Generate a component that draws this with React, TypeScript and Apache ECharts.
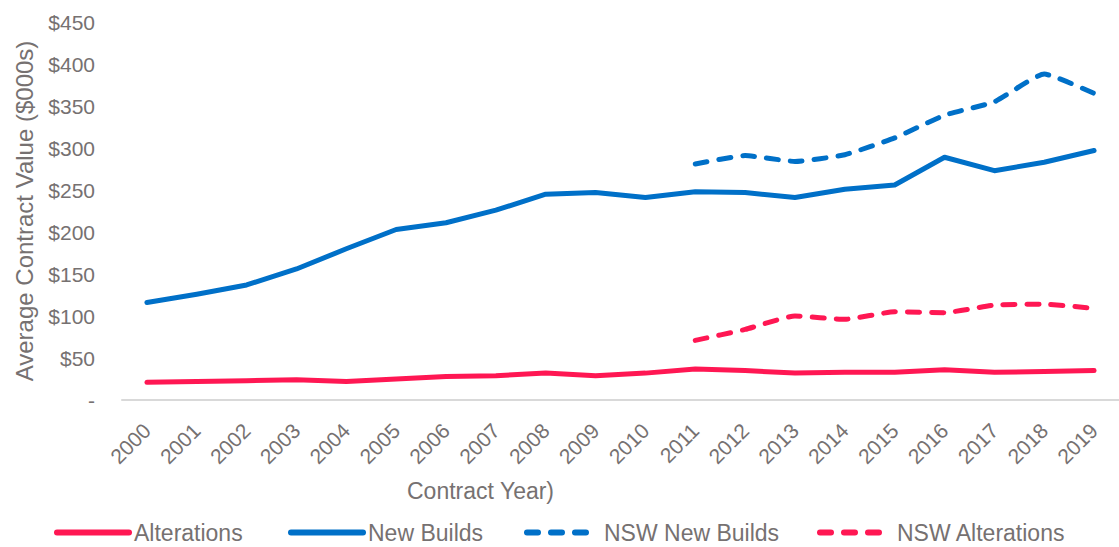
import React, { useEffect, useRef } from "react";
import * as echarts from "echarts";

const years = ["2000","2001","2002","2003","2004","2005","2006","2007","2008","2009","2010","2011","2012","2013","2014","2015","2016","2017","2018","2019"];
const alterations = [21, 22, 23, 24, 22, 25, 28, 29, 32, 29, 32, 37, 35, 32, 33, 33, 36, 33, 34, 35];
const newBuilds = [116, 126, 137, 156, 180, 203, 211, 226, 245, 247, 241, 248, 247, 241, 251, 256, 289, 273, 283, 297];
const nswNewBuilds = [null, null, null, null, null, null, null, null, null, null, null, 281, 291, 284, 292, 312, 339, 355, 388, 365];
const nswAlterations = [null, null, null, null, null, null, null, null, null, null, null, 71, 84, 100, 96, 105, 104, 113, 114, 109];
const yTicks = [0, 50, 100, 150, 200, 250, 300, 350, 400, 450];

const RED = "#ff1753";
const BLUE = "#0070c8";
const TEXT = "#767171";
const FONT = "'Liberation Sans', Arial, sans-serif";

export default function App() {
  const ref = useRef<HTMLDivElement>(null);
  useEffect(() => {
    if (!ref.current) return;
    const chart = echarts.init(ref.current, null, { renderer: "svg" });
    const legendBase = {
      top: 516,
      itemWidth: 72,
      itemHeight: 16,
      itemGap: 5,
      textStyle: { color: TEXT, fontSize: 23, fontFamily: FONT },
      itemStyle: { opacity: 0, borderWidth: 0 },
    };
    chart.setOption({
      animation: false,
      textStyle: { fontFamily: FONT },
      grid: { left: 122, top: 22, height: 378, width: 1006 },
      legend: [
        { ...legendBase, left: 49, data: ["Alterations"], lineStyle: { width: 6, cap: "round", opacity: 1 } },
        { ...legendBase, left: 283, data: ["New Builds"], lineStyle: { width: 6, cap: "round", opacity: 1 } },
        { ...legendBase, left: 519, data: ["NSW New Builds"], lineStyle: { width: 6, cap: "round", type: [11, 13], opacity: 1 } },
        { ...legendBase, left: 812, data: ["NSW Alterations"], lineStyle: { width: 6, cap: "round", type: [11, 13], opacity: 1 } },
      ],
      graphic: [
        {
          type: "text",
          left: 407,
          top: 479,
          style: { text: "Contract Year)", fill: TEXT, fontSize: 23, fontFamily: FONT },
        },
      ],
      xAxis: {
        type: "category",
        data: years,
        boundaryGap: true,
        axisLine: { show: true, lineStyle: { color: "#d9d9d9", width: 2 } },
        axisTick: { show: false },
        axisLabel: { rotate: 45, margin: 27, color: TEXT, fontSize: 21, fontFamily: FONT, interval: 0 },
      },
      yAxis: {
        type: "value",
        min: yTicks[0],
        max: yTicks[yTicks.length - 1],
        interval: 50,
        name: "Average Contract Value ($000s)",
        nameLocation: "middle",
        nameGap: 86,
        nameTextStyle: { color: TEXT, fontSize: 24, fontFamily: FONT },
        axisLine: { show: false },
        axisTick: { show: false },
        splitLine: { show: false },
        axisLabel: {
          margin: 27,
          color: TEXT,
          fontSize: 21,
          fontFamily: FONT,
          formatter: (v: number) => (v === 0 ? "-" : "$" + v),
        },
      },
      series: [
        {
          name: "Alterations",
          type: "line",
          data: alterations,
          symbol: "none",
          lineStyle: { color: RED, width: 5, cap: "round", join: "round" },
          itemStyle: { color: RED },
        },
        {
          name: "New Builds",
          type: "line",
          data: newBuilds,
          symbol: "none",
          lineStyle: { color: BLUE, width: 5, cap: "round", join: "round" },
          itemStyle: { color: BLUE },
        },
        {
          name: "NSW New Builds",
          type: "line",
          data: nswNewBuilds,
          symbol: "none",
          smooth: 0.15,
          lineStyle: { color: BLUE, width: 5, cap: "round", join: "round", type: [12, 12] },
          itemStyle: { color: BLUE },
        },
        {
          name: "NSW Alterations",
          type: "line",
          data: nswAlterations,
          symbol: "none",
          smooth: 0.15,
          lineStyle: { color: RED, width: 5, cap: "round", join: "round", type: [12, 12] },
          itemStyle: { color: RED },
        },
      ],
    });
    return () => chart.dispose();
  }, []);
  return (
    <div
      ref={ref}
      style={{ position: "fixed", left: 0, top: 0, width: 1119, height: 547, background: "#fff" }}
    />
  );
}
